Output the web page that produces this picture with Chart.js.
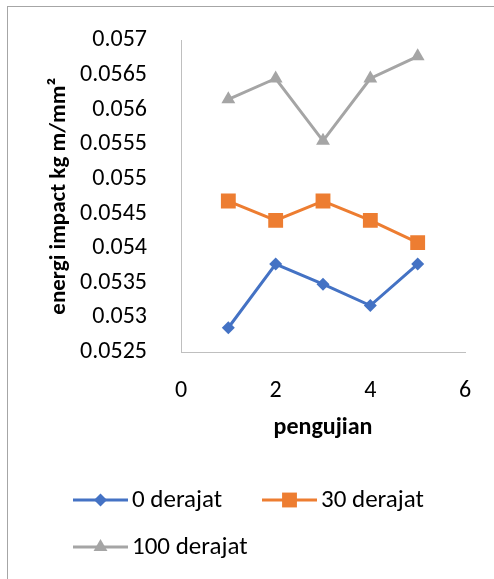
<!DOCTYPE html>
<html>
<head>
<meta charset="utf-8">
<script src="https://cdn.jsdelivr.net/npm/chart.js@4/dist/chart.umd.min.js"></script>
<style>
  html, body { margin: 0; padding: 0; background: #fff; overflow: hidden; }
  #wrap { position: relative; width: 494px; height: 579px; }
  #frame { position: absolute; left: 7px; top: 6px; width: 600px; height: 700px; border: 1px solid #a6a6a6; }
  #chart { position: absolute; left: 0; top: 0; }
</style>
</head>
<body>
<div id="wrap">
  <div id="frame"></div>
  <canvas id="chart" width="494" height="579"></canvas>
</div>
<script>
const FONT = 'Carlito, Lato, sans-serif';

// data
const pengujian = [1, 2, 3, 4, 5];
const derajat0 = [0.05285, 0.05377, 0.05348, 0.05317, 0.05377];
const derajat30 = [0.05468, 0.05440, 0.05468, 0.05440, 0.05408];
const derajat100 = [0.05615, 0.05645, 0.05555, 0.05645, 0.05677];
const seriesNames = ['0 derajat', '30 derajat', '100 derajat'];

const xAxis = { min: 0, max: 6, step: 2 };
const yAxis = { min: 0.0525, max: 0.057, step: 0.0005 };

const toPoints = (ys) => ys.map((y, i) => ({ x: pengujian[i], y: y }));

const ctx = document.getElementById('chart');

// excel-like legend: line + marker, rows laid out at fixed spots
const legendSpots = [[73, 500], [262, 500], [73, 547]];
const excelLegend = {
    id: 'excelLegend',
    afterDraw(chart) {
        const c = chart.ctx;
        c.save();
        c.font = '25px ' + FONT;
        c.textBaseline = 'middle';
        chart.data.datasets.forEach((ds, i) => {
            const [x, y] = legendSpots[i];
            c.strokeStyle = ds.borderColor;
            c.lineWidth = 3;
            c.beginPath();
            c.moveTo(x, y);
            c.lineTo(x + 55, y);
            c.stroke();
            c.fillStyle = ds.pointBackgroundColor;
            Chart.helpers.drawPoint(c, {
                pointStyle: ds.pointStyle,
                radius: ds.pointRadius,
                rotation: 0,
                borderWidth: 0
            }, x + 27.5, y);
            c.fillStyle = '#000';
            c.fillText(ds.label, x + 59, y + 1);
        });
        c.restore();
    }
};

const data = {
    datasets: [
        {
            label: seriesNames[0],
            data: toPoints(derajat0),
            borderColor: '#4472C4',
            pointBackgroundColor: '#4472C4',
            pointStyle: 'rectRot',
            pointRadius: 6.5
        },
        {
            label: seriesNames[1],
            data: toPoints(derajat30),
            borderColor: '#ED7D31',
            pointBackgroundColor: '#ED7D31',
            pointStyle: 'rect',
            pointRadius: 10.5
        },
        {
            label: seriesNames[2],
            data: toPoints(derajat100),
            borderColor: '#A5A5A5',
            pointBackgroundColor: '#A5A5A5',
            pointStyle: 'triangle',
            pointRadius: 8
        }
    ]
};

const config = {
    type: 'scatter',
    data: data,
    options: {
        responsive: false,
        animation: false,
        showLine: true,
        borderWidth: 3,
        pointBorderWidth: 0,
        layout: {
            padding: { left: 41, top: 35, right: 29, bottom: 133 }
        },
        plugins: {
            legend: { display: false },
            tooltip: { enabled: false }
        },
        scales: {
            x: {
                type: 'linear',
                min: xAxis.min,
                max: xAxis.max,
                afterFit: (s) => { s.height = 94; },
                grid: { display: false },
                border: { display: true, color: '#bfbfbf', width: 1 },
                ticks: {
                    stepSize: xAxis.step,
                    padding: 17,
                    color: '#000',
                    font: { family: FONT, size: 24 }
                },
                title: {
                    display: true,
                    text: 'pengujian',
                    color: '#000',
                    font: { family: FONT, size: 24, weight: 'bold' }
                }
            },
            y: {
                min: yAxis.min,
                max: yAxis.max,
                afterFit: (s) => { s.width = 140; },
                grid: { display: false },
                border: { display: true, color: '#bfbfbf', width: 1 },
                ticks: {
                    stepSize: yAxis.step,
                    padding: 26,
                    color: '#000',
                    font: { family: FONT, size: 24 },
                    callback: (v) => parseFloat(v.toFixed(4)).toString()
                },
                title: {
                    display: true,
                    text: 'energi impact kg m/mm²',
                    color: '#000',
                    font: { family: FONT, size: 23, weight: 'bold' }
                }
            }
        }
    },
    plugins: [excelLegend]
};

const lineChart = new Chart(ctx, config);
</script>
</body>
</html>
